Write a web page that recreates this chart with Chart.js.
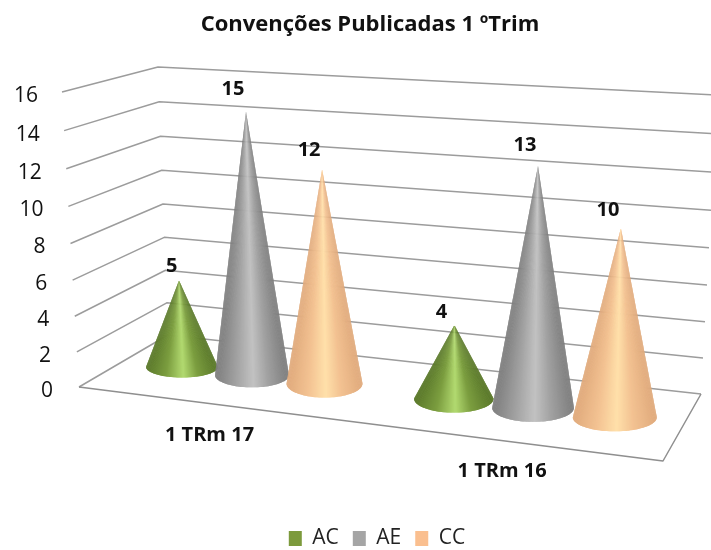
<!DOCTYPE html>
<html>
<head>
<meta charset="utf-8">
<style>html,body{margin:0;padding:0;background:#fff}#wrap{width:711px;height:550px}</style>
<script src="https://cdn.jsdelivr.net/npm/chart.js@4/dist/chart.umd.js"></script>
</head>
<body>
<div id="wrap"><canvas id="c" width="711" height="550"></canvas></div>
<script>
const categories = ["1 TRm 17", "1 TRm 16"];
const seriesNames = ["AC", "AE", "CC"];
const valuesAC = [5, 4];
const valuesAE = [15, 13];
const valuesCC = [12, 10];
const yTicksMax = 16;
const yTickStep = 2;
const colorAC = "#7c9a3c";
const colorAE = "#a5a5a5";
const colorCC = "#fabf8f";
const FONT = "'Open Sans', Lato, sans-serif";

const shades = {};
shades[colorAC] = [[90,120,42],[124,158,64],[178,218,112]];
shades[colorAE] = [[126,126,126],[162,162,162],[194,194,194]];
shades[colorCC] = [[224,170,124],[243,194,146],[255,224,170]];

const catPct = 0.81;
let activeChart = null;

// Perspective helpers: from the flat scale pixels to the tilted 3D look.
const corners = {
  frontLeft:  [[79,387],[62,92]],
  backLeft:   [[168,335],[158,67]],
  backRight:  [[701,394],[717,95]]
};
const frontRight = [663,461];
function wallPoint(c, t, bulge){
  return [c[0][0]+(c[1][0]-c[0][0])*t, c[0][1]+(c[1][1]-c[0][1])*t + bulge*t*(1-t)];
}
function spacingOf(chart){
  const a = chart.chartArea;
  return a.width/categories.length*catPct/seriesNames.length;
}
function pageX(chart, flatX){
  const tau = (flatX - chart.scales.x.getPixelForValue(0))/spacingOf(chart);
  return 252 + 71.25*tau + 1.25*tau*tau;
}
function coneGeometry(chart, el){
  const p = el.getProps(['x','y','base','width'], true);
  const ys = chart.scales.y;
  const v = ys.getValueForPixel(p.y);
  const cx = pageX(chart, p.x);
  const cy = 367 + (cx-182)*0.1163;
  const unit = 17.3 + (cx-182)*0.00372;
  const rx = p.width/2*(71.25/spacingOf(chart))*(1.01+(cx-182)*0.00039);
  const ry = Math.min(14, 10.5+(cx-182)*0.0246);
  const tipX = cx + v*0.00278*(cx-396);
  const tipY = cy - v*unit;
  return {v,cx,cy,rx,ry,tipX,tipY};
}
function shadeAt(s, p){
  const k = [[0,s[0]],[0.28,s[1]],[0.48,s[2]],[0.72,s[1]],[1,s[0]]];
  for(let i=0;i<k.length-1;i++){
    if(p<=k[i+1][0]){
      const f=(p-k[i][0])/(k[i+1][0]-k[i][0]);
      const a=k[i][1],b=k[i+1][1];
      return 'rgb('+[0,1,2].map(j=>Math.round(a[j]+(b[j]-a[j])*f)).join(',')+')';
    }
  }
  return 'rgb('+s[0].join(',')+')';
}
// Bars are drawn as cones, from the positions the library computed.
Chart.BarElement.prototype.draw = function(ctx){
  if(!activeChart) return;
  const g = coneGeometry(activeChart, this);
  const s = shades[this.options.backgroundColor] || shades[colorAE];
  const N = 90;
  ctx.save();
  for(let i=0;i<N;i++){
    const a0=Math.PI*(1-i/N), a1=Math.PI*(1-Math.min(N,i+2)/N);
    const p=(1-Math.cos(a0-Math.PI/(2*N)))/2;
    ctx.beginPath();
    ctx.moveTo(g.tipX,g.tipY);
    ctx.ellipse(g.cx,g.cy,g.rx,g.ry,0,a0,a1,true);
    ctx.closePath();
    ctx.fillStyle=shadeAt(s,p);
    ctx.fill();
  }
  ctx.restore();
};

const perspectivePlugin = {
  id:'perspective',
  afterLayout(chart){
    chart.titleBlock.left += 14.5; chart.titleBlock.right += 14.5;
    chart.legend.left += 21.5; chart.legend.right += 21.5;
    chart.legend.top += 9; chart.legend.bottom += 9;
  },
  beforeDatasetsDraw(chart){
    activeChart = chart;
    const ctx = chart.ctx, ys = chart.scales.y, xs = chart.scales.x;
    const span = ys.bottom-ys.top;
    ctx.save();
    // walls
    ctx.strokeStyle='#9c9c9c'; ctx.lineWidth=1.5; ctx.lineJoin='round';
    ys.ticks.forEach(tick=>{
      const t=(ys.bottom-ys.getPixelForValue(tick.value))/span;
      const a=wallPoint(corners.frontLeft,t,16), b=wallPoint(corners.backLeft,t,12), c=wallPoint(corners.backRight,t,13);
      ctx.beginPath(); ctx.moveTo(a[0],a[1]); ctx.lineTo(b[0],b[1]); ctx.lineTo(c[0],c[1]); ctx.stroke();
      // y tick labels follow the slanted wall edge
      ctx.fillStyle='#111'; ctx.font='21px '+FONT; ctx.textAlign='right'; ctx.textBaseline='middle';
      ctx.fillText(tick.label, 53-15*t, a[1]+4);
    });
    // floor
    const fl=corners.frontLeft[0], bl=corners.backLeft[0], br=corners.backRight[0];
    ctx.strokeStyle='#8f8f8f';
    ctx.beginPath(); ctx.moveTo(fl[0],fl[1]); ctx.lineTo(frontRight[0],frontRight[1]); ctx.lineTo(br[0],br[1]); ctx.stroke();
    // category labels below the floor
    ctx.fillStyle='#111'; ctx.font='bold 20px '+FONT; ctx.textAlign='center'; ctx.textBaseline='middle';
    categories.forEach((label,i)=>{
      const cx=pageX(chart,xs.getPixelForValue(i));
      ctx.fillText(label, cx-42.5+(cx-252)*0.041, 435+(cx-252)*0.1286);
    });
    ctx.restore();
    // datasets in index order so later series overlap earlier ones
    chart.data.datasets.forEach((d,i)=>{
      const m=chart.getDatasetMeta(i);
      if(m.visible!==false) m.controller.draw();
    });
    // value labels
    ctx.save();
    ctx.fillStyle='#111'; ctx.font='bold 20px '+FONT; ctx.textAlign='center'; ctx.textBaseline='middle';
    chart.data.datasets.forEach((d,i)=>{
      chart.getDatasetMeta(i).data.forEach((el,j)=>{
        const g=coneGeometry(chart,el);
        const dx=-13+Math.max(0,252-g.cx)*0.08;
        const dy=-(10+0.8*g.v);
        ctx.fillText(String(d.data[j]), g.tipX+dx, g.tipY+dy);
      });
    });
    ctx.restore();
    return false;
  }
};

new Chart(document.getElementById('c'),{
  type:'bar',
  data:{
    labels:categories,
    datasets:[
      {label:seriesNames[0],data:valuesAC,backgroundColor:colorAC},
      {label:seriesNames[1],data:valuesAE,backgroundColor:colorAE},
      {label:seriesNames[2],data:valuesCC,backgroundColor:colorCC}
    ]
  },
  options:{
    responsive:false,
    animation:false,
    events:[],
    categoryPercentage:catPct,
    barPercentage:1,
    layout:{padding:0},
    scales:{
      x:{display:false},
      y:{display:false,min:0,max:yTicksMax,ticks:{stepSize:yTickStep}}
    },
    plugins:{
      tooltip:{enabled:false},
      title:{display:true,text:'Convenções Publicadas 1 ºTrim',color:'#111',
        font:{family:FONT,size:22,weight:'bold'},padding:{top:12,bottom:8}},
      legend:{position:'bottom',
        labels:{boxWidth:13,boxHeight:15,padding:14,color:'#222',font:{family:FONT,size:21}}}
    }
  },
  plugins:[perspectivePlugin]
});
</script>
</body>
</html>
